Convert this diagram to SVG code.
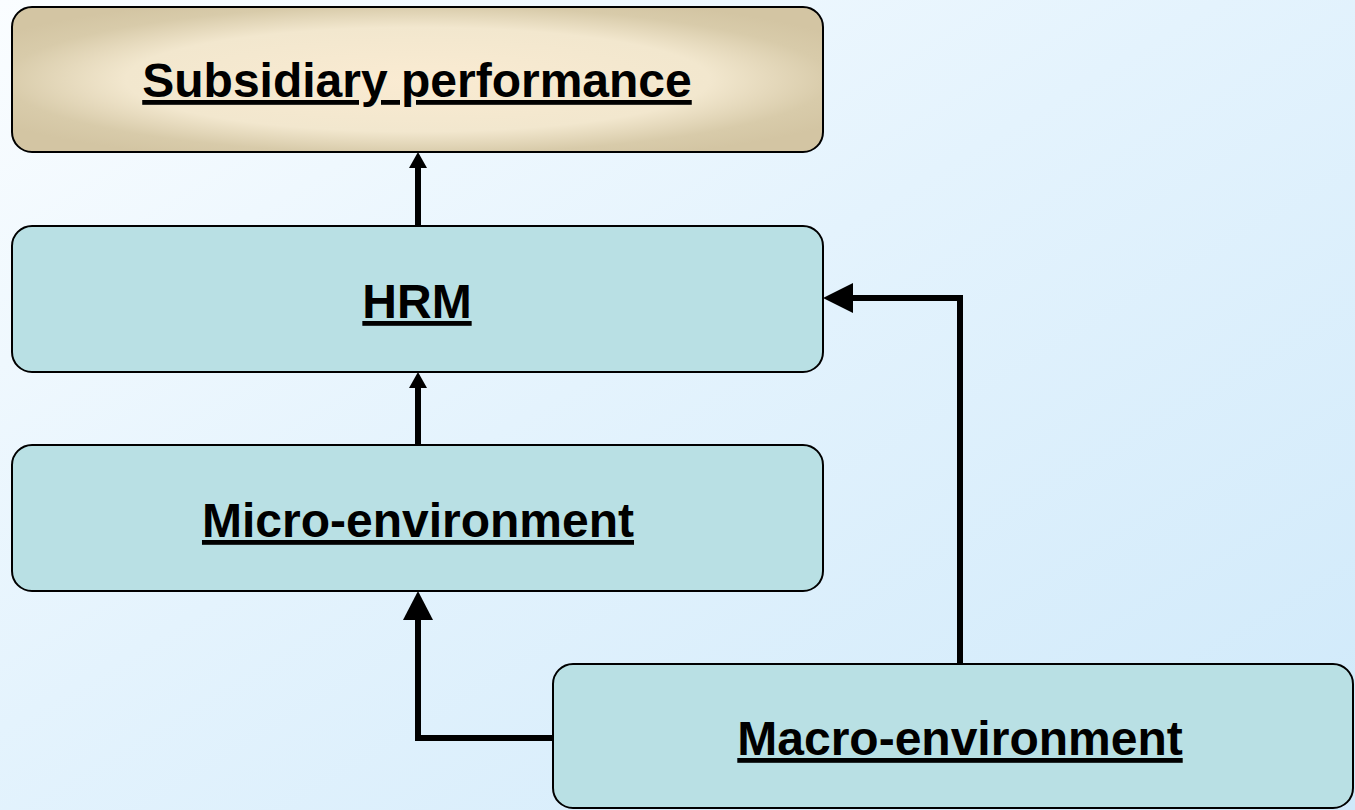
<svg xmlns="http://www.w3.org/2000/svg" width="1355" height="810" viewBox="0 0 1355 810">
<defs>
<linearGradient id="bg" x1="0" y1="0" x2="1" y2="1">
<stop offset="0" stop-color="#FAFDFF"/>
<stop offset="0.45" stop-color="#E4F3FD"/>
<stop offset="1" stop-color="#CFE9FA"/>
</linearGradient>
<radialGradient id="tan" cx="0.5" cy="0.5" r="0.6">
<stop offset="0" stop-color="#FAEBD2"/>
<stop offset="0.6" stop-color="#F2E7CE"/>
<stop offset="0.85" stop-color="#D8CBAA"/>
<stop offset="1" stop-color="#D3C5A3"/>
</radialGradient>
<style>
.box{stroke:#000;stroke-width:2}
.teal{fill:#B9E0E4}
.lbl{font-family:"Liberation Sans",Arial,sans-serif;font-weight:bold;font-size:48px;fill:#000;text-anchor:middle;text-decoration:underline}
.conn{fill:none;stroke:#000;stroke-width:6}
.head{fill:#000}
</style>
</defs>
<rect width="1355" height="810" fill="url(#bg)"/>
<g id="connectors">
<path class="conn" d="M418,226 L418,165"/>
<polygon class="head" points="418,152 427,168 409,168"/>
<path class="conn" d="M418,445 L418,385"/>
<polygon class="head" points="418,372 427,388 409,388"/>
<path class="conn" d="M553,738 L418,738 L418,615"/>
<polygon class="head" points="418,591 433,620 403,620"/>
<path class="conn" d="M960,664 L960,298 L848,298"/>
<polygon class="head" points="823,298 853,283 853,313"/>
</g>
<g id="subsidiary">
<rect class="box" x="12" y="7" width="811" height="145" rx="20" fill="url(#tan)"/>
<text class="lbl" x="417" y="97">Subsidiary performance</text>
</g>
<g id="hrm">
<rect class="box teal" x="12" y="226" width="811" height="146" rx="20"/>
<text class="lbl" x="417" y="318">HRM</text>
</g>
<g id="micro">
<rect class="box teal" x="12" y="445" width="811" height="146" rx="20"/>
<text class="lbl" x="418" y="537">Micro-environment</text>
</g>
<g id="macro">
<rect class="box teal" x="553" y="664" width="800" height="144" rx="20"/>
<text class="lbl" x="960" y="755">Macro-environment</text>
</g>
</svg>
